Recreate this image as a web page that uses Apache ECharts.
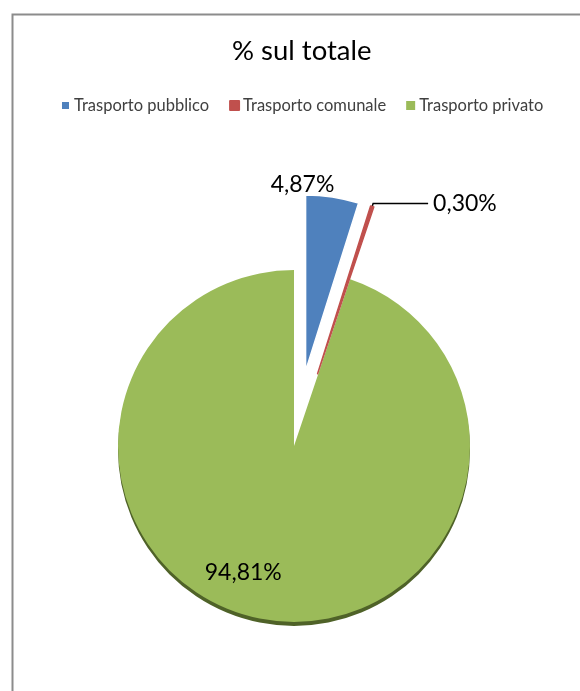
<!DOCTYPE html>
<html>
<head>
<meta charset="utf-8">
<script src="https://cdn.jsdelivr.net/npm/echarts@6/dist/echarts.min.js"></script>
<style>
html,body{margin:0;padding:0;background:#fff;}
#chart{width:580px;height:691px;}
</style>
</head>
<body>
<div id="chart"></div>
<script>
// ---- data ----
const titleText = '% sul totale';
const categories = ['Trasporto pubblico', 'Trasporto comunale', 'Trasporto privato'];
const values = [4.87, 0.30, 94.81];
const colors = ['#4F81BD', '#C0504D', '#9BBB59'];
const exploded = [true, true, false];

const FONT = 'Lato';

const chart = echarts.init(document.getElementById('chart'), null, {renderer: 'canvas'});

// label nudges (pixels) relative to library-computed label position
const labelShift = {
  'Trasporto pubblico': [-67, -10],
  'Trasporto privato': [-36, 37]
};

const items = categories.map((name, i) => {
  const item = {
    name: name,
    value: values[i],
    selected: exploded[i],
    itemStyle: {color: colors[i]}
  };
  if (i === 0) {
    item.itemStyle.borderColor = '#fff';
    item.itemStyle.borderWidth = 1.5;
    item.label = {position: 'outside'};
    item.labelLine = {show: false, length: 2, length2: 0};
  } else if (i === 1) {
    item.itemStyle.borderColor = colors[i];
    item.itemStyle.borderWidth = 1.5;
    item.label = {position: 'outside'};
    item.labelLine = {show: true, length: 3, length2: 55, lineStyle: {color: '#000', width: 1.5}};
  } else {
    item.itemStyle.borderWidth = 0;
    item.label = {position: 'inside'};
    item.itemStyle.shadowColor = '#4f6228';
    item.itemStyle.shadowBlur = 0;
    item.itemStyle.shadowOffsetY = 4;
  }
  return item;
});
// drawn counter-clockwise from 12 o'clock in reverse order => same layout as clockwise,
// but the exploded slices are painted on top
const data = items.slice().reverse();

chart.setOption({
  animation: false,
  backgroundColor: '#fff',
  title: {
    text: titleText,
    left: 227,
    top: 32,
    textStyle: {fontFamily: FONT, fontSize: 27.5, fontWeight: 'normal', color: '#000'}
  },
  legend: {
    data: categories,
    left: 55,
    top: 92,
    orient: 'horizontal',
    icon: 'rect', itemWidth: 9, itemHeight: 9, itemGap: 20,
    textStyle: {fontFamily: FONT, fontSize: 16.5, color: '#404040', padding: [0, 0, 0, -1]},
    selectedMode: false
  },
  graphic: [{
    type: 'rect', left: 10, top: 12, silent: true, z: -1,
    shape: {width: 600, height: 700},
    style: {fill: 'none', stroke: '#8c8c8c', lineWidth: 2}
  }],
  series: [{
    type: 'pie',
    center: [294, 446],
    radius: 176,
    startAngle: 90,
    clockwise: false,
    selectedMode: 'multiple',
    selectedOffset: 76,
    avoidLabelOverlap: false,
    label: {
      fontFamily: FONT, fontSize: 23, color: '#000',
      formatter: p => p.value.toFixed(2).replace('.', ',') + '%'
    },
    emphasis: {disabled: true},
    labelLayout: function (params) {
      const name = categories[categories.length - 1 - params.dataIndex];
      const s = labelShift[name];
      return s ? {dx: s[0], dy: s[1]} : {};
    },
    data: data
  }]
});
</script>
</body>
</html>
